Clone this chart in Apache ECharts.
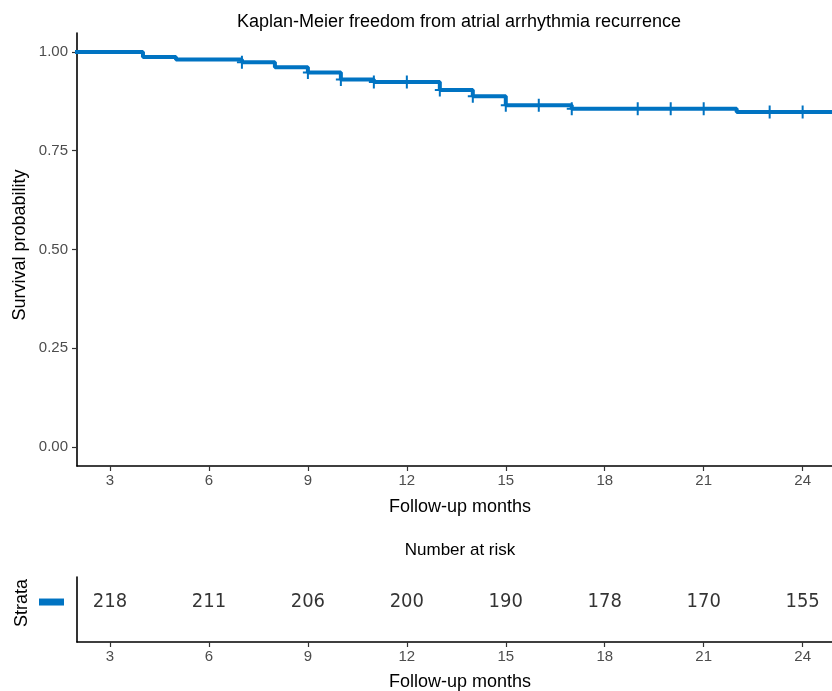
<!DOCTYPE html>
<html>
<head>
<meta charset="utf-8">
<script src="https://cdn.jsdelivr.net/npm/echarts@6/dist/echarts.min.js"></script>
<style>
  html, body { margin: 0; padding: 0; background: #fff; }
  #chart { width: 832px; height: 691px; }
</style>
</head>
<body>
<div id="chart"></div>
<script>
// KM step curve (months, survival)
const times = [0, 4, 5, 7, 8, 9, 10, 11, 13, 14, 15, 17, 22, 25];
const survival = [1.000, 0.987, 0.981, 0.974, 0.961, 0.948, 0.930, 0.924, 0.904, 0.888, 0.865, 0.856, 0.848, 0.848];
// censoring marks
const censorTimes = [7, 9, 10, 11, 12, 13, 14, 15, 16, 17, 19, 20, 21, 23, 24];
// number at risk table
const riskTimes = [3, 6, 9, 12, 15, 18, 21, 24];
const atRisk = [218, 211, 206, 200, 190, 178, 170, 155];
const yTicks = [0, 0.25, 0.5, 0.75, 1];

const blue = '#0073C2';
const axisFont = 'Liberation Sans, Arial, sans-serif';
const tableFont = '"Liberation Sans Narrow", "DejaVu Sans Condensed", sans-serif';
const ROW_Y = 0.615; // vertical place of the single strata row

function survAt(t) {
    let s = survival[0];
    times.forEach((tt, i) => { if (tt <= t) s = survival[i]; });
    return s;
}

const curve = times.map((t, i) => [t, survival[i]]);
const censor = censorTimes.map(t => [t, survAt(t)]);
const riskData = riskTimes.map((t, i) => [t, ROW_Y, atRisk[i]]);

const plusPath = 'path://M4,0 H6 V5.5 H10 V7.5 H6 V13 H4 V7.5 H0 V5.5 H4 Z';

const axisLine = { show: true, onZero: false, lineStyle: { color: '#000', width: 1.6 } };
const tickStyle = { show: true, length: 5, lineStyle: { color: '#333', width: 1.2 } };
const labelStyle = { color: '#4D4D4D', fontSize: 15, fontFamily: axisFont };

const chart = echarts.init(document.getElementById('chart'));
chart.setOption({
    animation: false,
    backgroundColor: '#fff',
    grid: [
        { left: 77, top: 33, width: 760, height: 433 },
        { left: 77, top: 577, width: 760, height: 65 }
    ],
    xAxis: [0, 1].map(g => ({
        type: 'value', gridIndex: g, min: 2, max: 24.89,
        axisLine: axisLine,
        axisTick: Object.assign({ customValues: riskTimes }, tickStyle),
        axisLabel: Object.assign({ customValues: riskTimes, margin: 7 }, labelStyle),
        splitLine: { show: false }
    })),
    yAxis: [
        {
            type: 'value', gridIndex: 0, min: -0.048, max: 1.048,
            axisLine: axisLine,
            axisTick: Object.assign({ customValues: yTicks }, tickStyle),
            axisLabel: Object.assign({ customValues: yTicks, margin: 9, formatter: v => v.toFixed(2) }, labelStyle),
            splitLine: { show: false }
        },
        {
            type: 'value', gridIndex: 1, min: 0, max: 1,
            axisLine: axisLine,
            axisTick: { show: false },
            axisLabel: {
                customValues: [ROW_Y], margin: 13,
                formatter: () => '{bar|}',
                rich: { bar: { width: 25, height: 7, backgroundColor: blue } }
            },
            splitLine: { show: false }
        }
    ],
    graphic: [
        { type: 'text', x: 459, y: 22, style: { text: 'Kaplan-Meier freedom from atrial arrhythmia recurrence', fill: '#000', font: '18px ' + axisFont, align: 'center', verticalAlign: 'middle' } },
        { type: 'text', x: 20, y: 245, rotation: Math.PI / 2, style: { text: 'Survival probability', fill: '#000', font: '18px ' + axisFont, align: 'center', verticalAlign: 'middle' } },
        { type: 'text', x: 460, y: 507, style: { text: 'Follow-up months', fill: '#000', font: '18px ' + axisFont, align: 'center', verticalAlign: 'middle' } },
        { type: 'text', x: 460, y: 550, style: { text: 'Number at risk', fill: '#000', font: '17px ' + axisFont, align: 'center', verticalAlign: 'middle' } },
        { type: 'text', x: 22, y: 603, rotation: Math.PI / 2, style: { text: 'Strata', fill: '#000', font: '18px ' + axisFont, align: 'center', verticalAlign: 'middle' } },
        { type: 'text', x: 460, y: 682, style: { text: 'Follow-up months', fill: '#000', font: '18px ' + axisFont, align: 'center', verticalAlign: 'middle' } }
    ],
    series: [
        {
            type: 'line', xAxisIndex: 0, yAxisIndex: 0, data: curve, step: 'end',
            showSymbol: false, clip: true,
            lineStyle: { color: blue, width: 4 }
        },
        {
            type: 'scatter', xAxisIndex: 0, yAxisIndex: 0, data: censor,
            symbol: plusPath, symbolSize: [10, 13],
            itemStyle: { color: blue, opacity: 1 }
        },
        {
            type: 'scatter', xAxisIndex: 1, yAxisIndex: 1, data: riskData,
            symbolSize: 0,
            label: {
                show: true, position: 'inside', formatter: p => p.value[2],
                color: '#000', fontSize: 20, fontFamily: tableFont
            }
        }
    ]
});
</script>
</body>
</html>
